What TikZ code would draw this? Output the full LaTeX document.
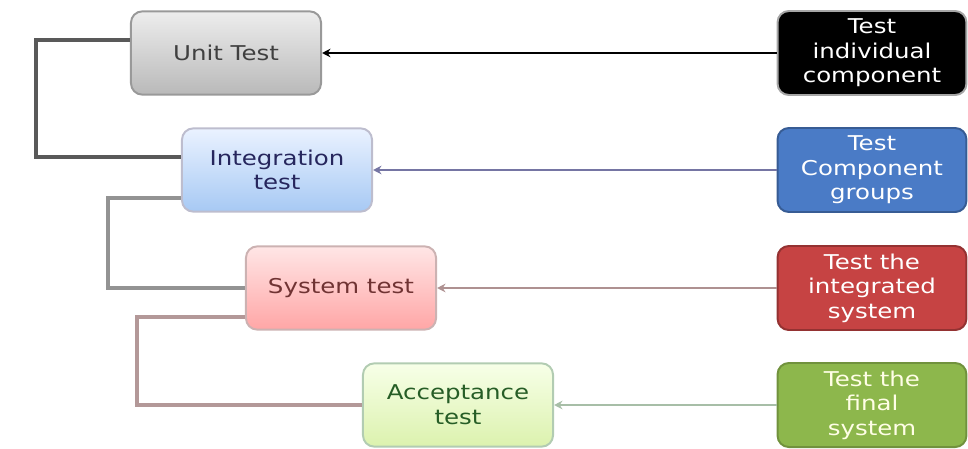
\documentclass[tikz,border=0pt]{standalone}
\usepackage{fontspec}
\usepackage{xcolor}
\usetikzlibrary{calc,arrows.meta}
\newfontfamily\boxfont[FakeStretch=1.2]{DejaVu Sans}

\definecolor{unitTop}{HTML}{EDEDED}
\definecolor{unitBot}{HTML}{B9B9B9}
\definecolor{integTop}{HTML}{EAF2FF}
\definecolor{integBot}{HTML}{A7C9F4}
\definecolor{sysTop}{HTML}{FFE6E6}
\definecolor{sysBot}{HTML}{FFA6A6}
\definecolor{accTop}{HTML}{F7FFE8}
\definecolor{accBot}{HTML}{DCF2AE}
\definecolor{goalBlue}{HTML}{4A7BC6}
\definecolor{goalRed}{HTML}{C64343}
\definecolor{goalGreen}{HTML}{8DB74C}

\tikzset{
  stage/.style={draw, line width=1.4pt, rounded corners=8pt, minimum width=4.75cm,
    minimum height=2.08cm, align=center, font=\boxfont\fontsize{14.5}{17.5}\selectfont},
  goal/.style={draw, line width=1.4pt, rounded corners=8pt, minimum width=4.72cm,
    minimum height=2.1cm, align=center, text=white,
    font=\boxfont\fontsize{14.5}{17.5}\selectfont},
  feed/.style={line width=1.9pt, -{Stealth[length=6pt,width=6pt]}},
  chain/.style={line width=2.6pt},
}

\begin{document}
\begin{tikzpicture}[x=0.025cm, y=-0.025cm]
  \useasboundingbox (0,0) rectangle (968,448);
  % test stages
  \node[stage, top color=unitTop, bottom color=unitBot, draw=gray!80, text=black!75] (unit) at (226,53) {Unit Test};
  \node[stage, top color=integTop, bottom color=integBot, draw=blue!15!gray!45, text=blue!25!black!85] (integ) at (277,170) {Integration\\test};
  \node[stage, top color=sysTop, bottom color=sysBot, draw=red!20!gray!50, text=red!30!black!80] (sys) at (341,288) {System test};
  \node[stage, top color=accTop, bottom color=accBot, draw=green!20!gray!50, text=green!25!black!85] (acc) at (458,405) {Acceptance\\test};
  % what each stage tests
  \node[goal, fill=black, draw=gray!70] (indiv) at (872,53) {Test\\individual\\component};
  \node[goal, fill=goalBlue, draw=goalBlue!75!black] (groups) at (872,170) {Test\\Component\\groups};
  \node[goal, fill=goalRed, draw=goalRed!75!black] (integrated) at (872,288) {Test the\\integrated\\system};
  \node[goal, fill=goalGreen, draw=goalGreen!80!black, text=yellow!10!white] (final) at (872,405) {Test the\\final\\system};
  % feeds
  \draw[feed, black] (indiv.west) -- (unit.east);
  \draw[feed, blue!20!gray!90] (groups.west) -- (integ.east);
  \draw[feed, red!15!gray!75] (integrated.west) -- (sys.east);
  \draw[feed, green!15!gray!60] (final.west) -- (acc.east);
  % chain of stages
  \draw[chain, black!65] ($(unit.west)+(0,-13)$) -- ++(-94,0) |- ($(integ.west)+(0,-13)$);
  \draw[chain, gray!85] ($(integ.west)+(0,28)$) -- ++(-73,0) |- (sys.west);
  \draw[chain, red!15!gray!70] ($(sys.west)+(0,29)$) -- ++(-108,0) |- (acc.west);
\end{tikzpicture}
\end{document}
